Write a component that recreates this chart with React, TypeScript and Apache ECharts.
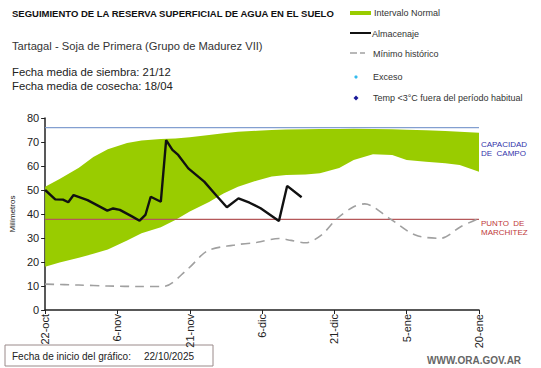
import React, { useEffect, useRef } from "react";
import * as echarts from "echarts";

// ---- data ----
const tickLabels = ["22-oct", "6-nov", "21-nov", "6-dic", "21-dic", "5-ene", "20-ene"];

const bandDays = [0, 3, 7, 10, 13, 17, 20, 24, 27, 30, 34, 37, 40, 44, 47, 50, 54, 57, 61, 64, 68, 72, 75, 79, 83, 86, 90];
const bandUpper = [51.4, 54.6, 59.3, 63.8, 67, 69.6, 70.6, 71.2, 71.5, 72, 72.9, 73.6, 74.3, 74.7, 75, 75.2, 75.3, 75.4, 75.4, 75.5, 75.4, 75.3, 75.1, 74.9, 74.6, 74.3, 73.9];
const bandLower = [18, 19.8, 21.8, 23.4, 25.2, 29, 32, 34.5, 37.5, 41, 45, 48.5, 51.4, 54, 55.6, 56.3, 56.5, 57, 59.2, 62.5, 64.9, 64.6, 62.5, 61.8, 61.1, 60.4, 57.6];

const storageDays = [0, 2.1, 3.7, 4.8, 5.9, 8.8, 12.9, 14.1, 15.5, 18, 19.6, 20.8, 21.9, 24, 25.1, 26.4, 27.6, 29.7, 33, 35.6, 37.7, 40.1, 42.4, 44.7, 48.5, 50.2, 53.2];
const storageValues = [50, 46.1, 46, 44.9, 47.9, 45.8, 41.4, 42.3, 41.7, 39, 37.2, 39.6, 47.2, 45.1, 70.8, 66.7, 64.6, 59, 53.5, 47.5, 42.8, 46.5, 44.7, 42.4, 37.1, 51.7, 47];

const minDays = [0, 7, 13, 20, 24.5, 29.6, 33.7, 39, 44, 48.5, 51, 54, 57.3, 60.6, 64, 66.3, 71.4, 76.8, 82.1, 86.2, 90];
const minValues = [10.8, 10.4, 10, 9.8, 9.8, 17.1, 24.7, 27, 28.2, 29.8, 29, 28, 31.2, 38.2, 43, 44.2, 38.2, 31.2, 29.9, 34.7, 38.2];

const fieldCapacity = 76;
const wiltingPoint = 37.8;
const xStart = 0;
const xEnd = 90;

const FONT = "Liberation Sans, Arial, sans-serif";

export default function App() {
  const ref = useRef<HTMLDivElement>(null);
  useEffect(() => {
    if (!ref.current) return;
    const chart = echarts.init(ref.current, null, { renderer: "svg" });
    const storage = storageDays.map((d, i) => [d, storageValues[i]]);
    const minimum = minDays.map((d, i) => [d, minValues[i]]);
    const legendText = { fill: "#333", font: `9px ${FONT}` };
    chart.setOption({
      animation: false,
      textStyle: { fontFamily: FONT },
      grid: { left: 33, right: 62, top: 118, bottom: 58 },
      xAxis: {
        type: "value",
        min: xStart,
        max: xEnd,
        interval: 15,
        axisLine: { show: true, lineStyle: { color: "#222", width: 1.5 } },
        axisTick: { show: true, length: 4, lineStyle: { color: "#222" } },
        splitLine: { show: false },
        axisLabel: {
          rotate: 90,
          margin: 4,
          fontSize: 11,
          color: "#222",
          formatter: (v: number) => tickLabels[Math.round(v / 15)] ?? "",
        },
      },
      yAxis: {
        type: "value",
        min: 0,
        max: 80,
        interval: 10,
        name: "Milímetros",
        nameLocation: "middle",
        nameGap: 26,
        nameTextStyle: { fontSize: 8, color: "#222" },
        axisLine: { show: true, lineStyle: { color: "#222", width: 1.5 } },
        axisTick: { show: true, length: 4, lineStyle: { color: "#222" } },
        splitLine: { show: false },
        axisLabel: { fontSize: 11, color: "#222", margin: 6 },
      },
      series: [
        {
          type: "custom",
          silent: true,
          data: [[0, 0]],
          renderItem: (_params: any, api: any) => {
            const pts: number[][] = [];
            bandDays.forEach((d, i) => pts.push(api.coord([d, bandUpper[i]])));
            for (let i = bandDays.length - 1; i >= 0; i--) pts.push(api.coord([bandDays[i], bandLower[i]]));
            return {
              type: "polygon",
              shape: { points: pts },
              style: { fill: "#99cc00", stroke: "none" },
            };
          },
        },
        {
          type: "line",
          silent: true,
          data: [[xStart, fieldCapacity], [xEnd, fieldCapacity]],
          symbol: "none",
          lineStyle: { color: "#839fd0", width: 1.2 },
        },
        {
          type: "line",
          silent: true,
          data: [[xStart, wiltingPoint], [xEnd, wiltingPoint]],
          symbol: "none",
          lineStyle: { color: "#b5585a", width: 1.2 },
        },
        {
          type: "line",
          data: minimum,
          symbol: "none",
          smooth: 0.3,
          lineStyle: { color: "#a0a0a0", width: 1.6, type: [9, 6] },
        },
        {
          type: "line",
          data: storage,
          symbol: "none",
          lineStyle: { color: "#111", width: 2.4 },
        },
      ],
      graphic: [
        { type: "text", left: 12, top: 8, style: { text: "SEGUIMIENTO DE LA RESERVA SUPERFICIAL DE AGUA EN EL SUELO", fill: "#111", font: `bold 9.5px ${FONT}` } },
        { type: "text", left: 12, top: 40, style: { text: "Tartagal - Soja de Primera (Grupo de Madurez VII)", fill: "#333", font: `11.2px ${FONT}` } },
        { type: "text", left: 12, top: 66, style: { text: "Fecha media de siembra: 21/12", fill: "#222", font: `11.3px ${FONT}` } },
        { type: "text", left: 12, top: 80, style: { text: "Fecha media de cosecha: 18/04", fill: "#222", font: `11.3px ${FONT}` } },
        // legend
        { type: "rect", shape: { x: 350, y: 11, width: 21, height: 4 }, style: { fill: "#99cc00" } },
        { type: "text", x: 374, y: 13, style: { ...legendText, text: "Intervalo Normal", verticalAlign: "middle" } },
        { type: "line", shape: { x1: 350, y1: 33, x2: 371, y2: 33 }, style: { stroke: "#111", lineWidth: 2 } },
        { type: "text", x: 372, y: 34, style: { ...legendText, text: "Almacenaje", verticalAlign: "middle" } },
        { type: "line", shape: { x1: 350, y1: 53, x2: 357, y2: 53 }, style: { stroke: "#a0a0a0", lineWidth: 1.5 } },
        { type: "line", shape: { x1: 360, y1: 53, x2: 365, y2: 53 }, style: { stroke: "#a0a0a0", lineWidth: 1.5 } },
        { type: "text", x: 373, y: 54, style: { ...legendText, text: "Mínimo histórico", verticalAlign: "middle" } },
        { type: "circle", shape: { cx: 356, cy: 77, r: 1.6 }, style: { fill: "#33bbee" } },
        { type: "text", x: 373, y: 77, style: { ...legendText, text: "Exceso", verticalAlign: "middle" } },
        { type: "polygon", shape: { points: [[356, 95.5], [358.5, 98], [356, 100.5], [353.5, 98]] }, style: { fill: "#1a1a99" } },
        { type: "text", x: 373, y: 98, style: { ...legendText, text: "Temp <3°C fuera del período habitual", verticalAlign: "middle" } },
        // right labels
        { type: "text", x: 481, y: 140, style: { text: "CAPACIDAD\nDE  CAMPO", fill: "#3333aa", font: `8px ${FONT}`, lineHeight: 9 } },
        { type: "text", x: 481, y: 219, style: { text: "PUNTO  DE\nMARCHITEZ", fill: "#c03a3a", font: `8px ${FONT}`, lineHeight: 9 } },
        // bottom box
        { type: "rect", shape: { x: 5, y: 345, width: 208, height: 21 }, style: { fill: "#fff", stroke: "#9a8a8a", lineWidth: 1 } },
        { type: "text", x: 12, y: 356, style: { text: "Fecha de inicio del gráfico:", fill: "#222", font: `10px ${FONT}`, verticalAlign: "middle" } },
        { type: "text", x: 144, y: 356, style: { text: "22/10/2025", fill: "#222", font: `10px ${FONT}`, verticalAlign: "middle" } },
        { type: "text", x: 427, y: 360, style: { text: "WWW.ORA.GOV.AR", fill: "#666", font: `bold 10px ${FONT}`, verticalAlign: "middle" } },
      ],
    });
    return () => chart.dispose();
  }, []);
  return <div ref={ref} style={{ width: 541, height: 368, position: "absolute", left: 0, top: 0 }} />;
}
